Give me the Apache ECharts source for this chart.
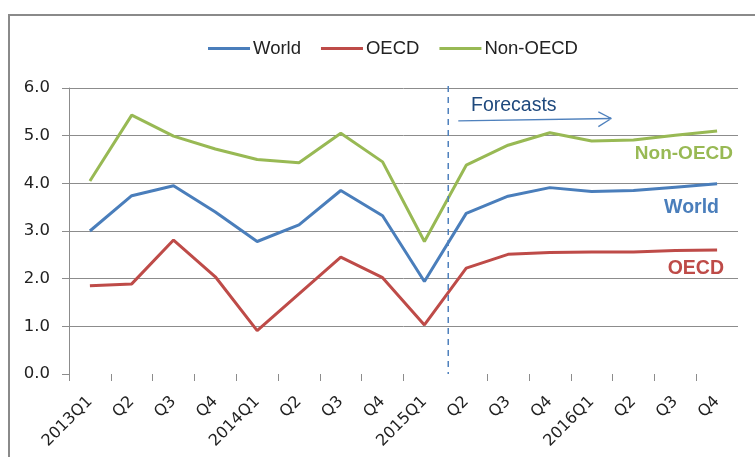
<!DOCTYPE html>
<html><head><meta charset="utf-8">
<script src="https://cdn.jsdelivr.net/npm/echarts@6/dist/echarts.min.js"></script>
<style>html,body{margin:0;padding:0;background:#fff}#c{width:755px;height:457px}</style>
</head><body><div id="c"></div>
<script>
const categories = ['2013Q1','Q2','Q3','Q4','2014Q1','Q2','Q3','Q4','2015Q1','Q2','Q3','Q4','2016Q1','Q2','Q3','Q4'];
const world   = [3.00,3.74,3.95,3.40,2.78,3.13,3.85,3.32,1.94,3.37,3.73,3.91,3.83,3.85,3.92,3.99];
const oecd    = [1.85,1.89,2.81,2.04,0.91,1.68,2.45,2.02,1.03,2.22,2.51,2.55,2.56,2.56,2.59,2.60];
const nonOecd = [4.05,5.43,4.99,4.72,4.50,4.43,5.05,4.45,2.78,4.38,4.80,5.06,4.89,4.91,5.01,5.10];
const yTicks = [0,1,2,3,4,5,6];
const xTickBounds = [0,1,2,3,4,5,6,7,8,10,11,12,13,14,15]; // category boundaries carrying a tick
const forecastStart = 9.07;   // position on category scale (between 2015Q1 and Q2)
const arrowPts = [[9.31,5.31],[12.97,5.36],null,[12.66,5.50],[12.97,5.36],[12.66,5.19]];

const C_WORLD = '#4a7ebb', C_OECD = '#be4b48', C_NON = '#98b954';
const chart = echarts.init(document.getElementById('c'));
const gridColors = yTicks.map((v,i) => i === 0 ? 'rgba(0,0,0,0)' : '#8c8c8c');

chart.setOption({
  animation: false,
  backgroundColor: '#fff',
  legend: {
    top: 34, left: 203, icon: 'rect', itemWidth: 42, itemHeight: 3, itemGap: 20,
    textStyle: {fontFamily: 'Liberation Sans', fontSize: 18.5, color: '#222', padding: [0,0,0,-2]},
    data: ['World','OECD','Non-OECD']
  },
  grid: {left: 69, right: 17, top: 88, bottom: 83, containLabel: false},
  xAxis: [{
    type: 'category', data: categories, boundaryGap: true,
    axisLine: {show: false},
    axisTick: {show: false},
    axisLabel: {rotate: 45, interval: 0, margin: 25, fontFamily: 'DejaVu Sans', fontSize: 16, color: '#222'}
  },{
    type: 'value', min: 0, max: 16, position: 'bottom',
    axisLine: {show: false}, axisLabel: {show: false}, splitLine: {show: false},
    axisTick: {show: true, length: 7, lineStyle: {color: '#8c8c8c'}, customValues: xTickBounds}
  }],
  yAxis: {
    type: 'value', min: 0, max: 6, interval: 1,
    axisLine: {show: true, lineStyle: {color: '#8c8c8c', width: 1}},
    axisTick: {show: true, length: 7, lineStyle: {color: '#8c8c8c'}},
    axisLabel: {formatter: v => v.toFixed(1), margin: 19, fontFamily: 'DejaVu Sans', fontSize: 16.5, color: '#222'},
    splitLine: {show: true, lineStyle: {color: gridColors, width: 1}}
  },
  series: [
    {name: 'World', type: 'line', data: world, color: C_WORLD, symbol: 'none', lineStyle: {width: 3}},
    {name: 'OECD', type: 'line', data: oecd, color: C_OECD, symbol: 'none', lineStyle: {width: 3}},
    {name: 'Non-OECD', type: 'line', data: nonOecd, color: C_NON, symbol: 'none', lineStyle: {width: 3}},
    {name: 'forecastLine', type: 'line', xAxisIndex: 1, clip: false, symbol: 'none', silent: true,
     data: [[forecastStart, 6.04],[forecastStart, 0]],
     lineStyle: {color: '#4f81bd', width: 1.5, type: [6,5]}},
    {name: 'forecastArrow', type: 'line', xAxisIndex: 1, clip: false, symbol: 'none', silent: true,
     connectNulls: false, data: arrowPts.map(p => p ? p : [null, null]),
     lineStyle: {color: '#4f81bd', width: 1.3}}
  ],
  graphic: [
    {type: 'rect', shape: {x: 9, y: 15, width: 760, height: 460}, style: {fill: 'none', stroke: '#8a8a8a', lineWidth: 2}, silent: true},
    {type: 'text', left: 471, top: 96, style: {text: 'Forecasts', fill: '#1f497d', font: '19.5px "Liberation Sans"'}},
    {type: 'text', right: 22, top: 144, style: {text: 'Non-OECD', fill: C_NON, font: 'bold 19px "Liberation Sans"'}},
    {type: 'text', right: 36, top: 198, style: {text: 'World', fill: C_WORLD, font: 'bold 19.5px "Liberation Sans"'}},
    {type: 'text', right: 31, top: 259, style: {text: 'OECD', fill: C_OECD, font: 'bold 19.5px "Liberation Sans"'}}
  ]
});
</script></body></html>
